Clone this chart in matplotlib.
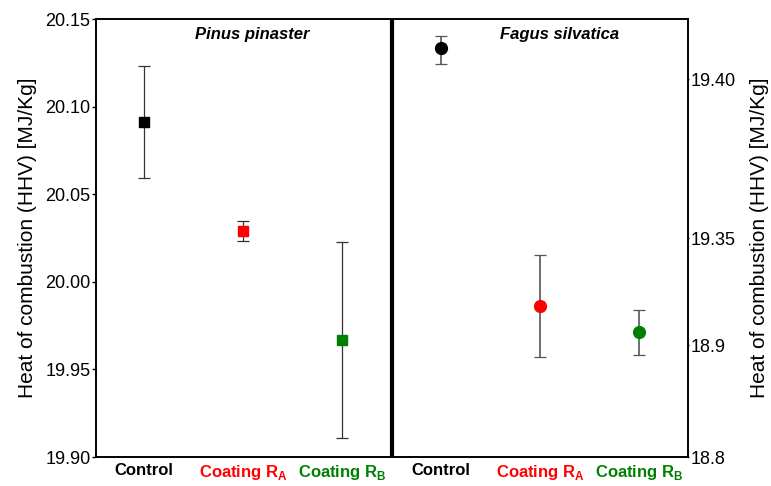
import numpy as np
import matplotlib
matplotlib.use("Agg")
import matplotlib.pyplot as plt
from matplotlib.transforms import blended_transform_factory

# Categories and colours
groups = ["Control", "Coating R$_\\mathregular{A}$", "Coating R$_\\mathregular{B}$"]
group_colors = ["black", "#ff0000", "#008000"]

# Pinus pinaster (left axis), mean and symmetric error
pinus_mean = [20.091, 20.029, 19.967]
pinus_err = [0.032, 0.0057, 0.056]

# Fagus silvatica (right axis, broken scale), mean and asymmetric error
fagus_mean = [19.4097, 19.064, 18.9547]
fagus_low = [19.4047, 18.889, 18.891]
fagus_high = [19.4135, 19.2785, 19.047]

left_ticks = [19.90, 19.95, 20.00, 20.05, 20.10, 20.15]
right_ticks = [18.8, 18.9, 19.35, 19.40]
right_ticklabels = ["18.8", "18.9", "19.35", "19.40"]

# piecewise scale of the right axis (value -> relative position)
knot_vals = np.array([18.8, 18.9, 19.35, 19.40])
knot_pos = np.array([0.0, 112.0, 219.0, 378.0])


def _pw(x, xs, ys):
    x = np.asarray(x, dtype=float)
    y = np.interp(x, xs, ys)
    lo_slope = (ys[1] - ys[0]) / (xs[1] - xs[0])
    hi_slope = (ys[-1] - ys[-2]) / (xs[-1] - xs[-2])
    y = np.where(x < xs[0], ys[0] + (x - xs[0]) * lo_slope, y)
    y = np.where(x > xs[-1], ys[-1] + (x - xs[-1]) * hi_slope, y)
    return y


def fwd(v):
    return _pw(v, knot_vals, knot_pos)


def inv(p):
    return _pw(p, knot_pos, knot_vals)


plt.rcParams["font.family"] = ["Liberation Sans", "DejaVu Sans"]
plt.rcParams["mathtext.fontset"] = "custom"
plt.rcParams["mathtext.rm"] = "Liberation Sans:bold"

fig = plt.figure(figsize=(7.71, 4.86), dpi=100)
ax = fig.add_axes([96 / 771, 29 / 486, 592 / 771, 438 / 486])
ax2 = ax.twinx()

x_pinus = np.arange(3)
x_fagus = np.arange(3) + 3

for i in range(3):
    ax.errorbar(x_pinus[i], pinus_mean[i], yerr=pinus_err[i], fmt="s",
                color=group_colors[i], ms=7, ecolor="#333333", elinewidth=0.9,
                capsize=4, capthick=0.9, zorder=3)
    ax2.errorbar(x_fagus[i], fagus_mean[i],
                 yerr=[[fagus_mean[i] - fagus_low[i]], [fagus_high[i] - fagus_mean[i]]],
                 fmt="o", color=group_colors[i], ms=8.5, ecolor="#555555",
                 elinewidth=1.2, capsize=4, capthick=0.9, zorder=3)

ax.set_xlim(-0.485, 5.495)
ax.set_ylim(19.90, 20.15)
ax.set_yticks(left_ticks)
ax.set_yticklabels([f"{t:.2f}" for t in left_ticks])
ax.tick_params(axis="y", direction="out", length=3, width=1, labelsize=13, pad=1)
ax.set_ylabel("Heat of combustion (HHV) [MJ/Kg]", fontsize=15, labelpad=6)

ax2.set_yscale("function", functions=(fwd, inv))
ax2.set_ylim(18.8, 19.40 + 60 / 3180)
ax2.set_yticks(right_ticks)
ax2.set_yticklabels(right_ticklabels)
ax2.yaxis.set_minor_locator(matplotlib.ticker.NullLocator())
ax2.tick_params(axis="y", direction="out", length=1, width=1, labelsize=13, pad=1)
ax2.set_ylabel("Heat of combustion (HHV) [MJ/Kg]", fontsize=15, labelpad=10)

ax.set_xticks(np.arange(6))
ax.set_xticklabels(groups + groups, fontsize=12, fontweight="bold")
for lbl, c in zip(ax.get_xticklabels(), group_colors + group_colors):
    lbl.set_color(c)
ax.tick_params(axis="x", length=0, pad=4)

for a in (ax, ax2):
    for s in a.spines.values():
        s.set_linewidth(1.2)

ax.axvline(2.5, color="black", lw=3)

trans = blended_transform_factory(ax.transData, ax.transAxes)
ax.text(1.09, 0.965, "Pinus pinaster", transform=trans, ha="center", va="center",
        fontsize=12, fontweight="bold", fontstyle="italic")
ax.text(4.2, 0.965, "Fagus silvatica", transform=trans, ha="center", va="center",
        fontsize=12, fontweight="bold", fontstyle="italic")

fig.savefig("out.png", dpi=100)
